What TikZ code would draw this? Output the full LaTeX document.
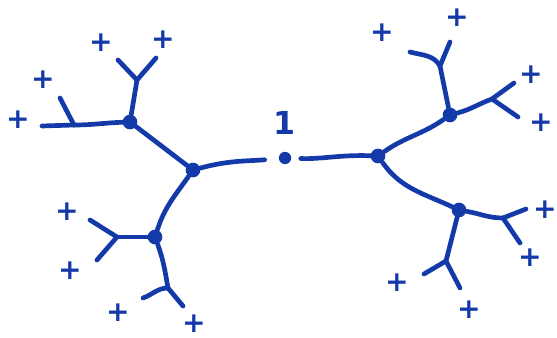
\documentclass[tikz,border=0pt]{standalone}
\usepackage{fontspec}
\usepackage{tikz}
\usetikzlibrary{positioning}
\newfontfamily\inkfont{DejaVu Sans}
\definecolor{ink}{RGB}{20,58,170}
\tikzset{
  twig/.style={draw=ink,line width=4pt,line cap=round,line join=round},
  vx/.style={circle,fill=ink,inner sep=0pt,minimum size=12.5pt},
  sgn/.style={text=ink,font=\inkfont\bfseries\fontsize{24}{24}\selectfont,inner sep=0pt},
  lbl/.style={text=ink,font=\inkfont\bfseries\fontsize{27}{27}\selectfont,inner sep=0pt},
}
\begin{document}
\begin{tikzpicture}[x=0.03cm,y=0.03cm]
  \useasboundingbox (0,0) rectangle (557,338);
  % centre and inner vertices
  \node[vx,minimum size=10.5pt] (ctr) at (285,180) {};
  \node[lbl,above=14pt of ctr] (one) {1};
  \node[vx] (a) at (193,168) {};
  \node[vx] (b) at (378,182) {};
  \node[vx] (ul) at (130,216) {};
  \node[vx] (ll) at (155,101) {};
  \node[vx] (ur) at (450,223) {};
  \node[vx] (lr) at (459,128) {};
  \draw[twig,shorten >=12pt] (a) to[out=15,in=185] (ctr);
  \draw[twig,shorten <=8pt] (ctr) to[out=-2,in=178] (b);
  \draw[twig] (a) -- (ul);
  \draw[twig] (a) to[out=-125,in=72] (ll);
  \draw[twig] (b) to[out=35,in=-145] (ur);
  \draw[twig] (b) to[out=-55,in=155] (lr);
  % branch points
  \coordinate (ulu) at (137,258); \coordinate (ulw) at (74,213);
  \coordinate (llw) at (117,101); \coordinate (lld) at (168,50);
  \coordinate (uru) at (440,272); \coordinate (ure) at (492,239);
  \coordinate (lre) at (503,120); \coordinate (lrd) at (446,77);
  \draw[twig] (ul) -- (ulu); \draw[twig] (ul) to[out=182,in=0] (ulw);
  \draw[twig] (ll) -- (llw); \draw[twig] (ll) to[out=-70,in=100] (lld);
  \draw[twig] (ur) -- (uru); \draw[twig] (ur) to[out=15,in=-160] (ure);
  \draw[twig] (lr) to[out=-10,in=180] (lre); \draw[twig] (lr) -- (lrd);
  % twig ends
  \coordinate (t1) at (118,278); \coordinate (t2) at (156,280);
  \coordinate (t3) at (60,240);  \coordinate (t4) at (42,212);
  \coordinate (t5) at (90,118);  \coordinate (t6) at (97,78);
  \coordinate (t7) at (143,40);  \coordinate (t8) at (183,32);
  \coordinate (t9) at (410,286); \coordinate (t10) at (450,296);
  \coordinate (t11) at (514,255); \coordinate (t12) at (518,221);
  \coordinate (t13) at (526,129); \coordinate (t14) at (520,95);
  \coordinate (t15) at (424,64); \coordinate (t16) at (460,50);
  \draw[twig] (ulu) -- (t1); \draw[twig] (ulu) -- (t2);
  \draw[twig] (ulw) -- (t3); \draw[twig] (ulw) -- (t4);
  \draw[twig] (llw) -- (t5); \draw[twig] (llw) -- (t6);
  \draw[twig] (lld) to[out=180,in=20] (t7); \draw[twig] (lld) -- (t8);
  \draw[twig] (uru) to[out=120,in=-15] (t9); \draw[twig] (uru) -- (t10);
  \draw[twig] (ure) -- (t11); \draw[twig] (ure) -- (t12);
  \draw[twig] (lre) -- (t13); \draw[twig] (lre) -- (t14);
  \draw[twig] (lrd) -- (t15); \draw[twig] (lrd) -- (t16);
  % leaf signs
  \node[sgn] (p1) at (101,295) {+};  \node[sgn] (p2) at (163,298) {+};
  \node[sgn] (p3) at (43,258) {+};   \node[sgn] (p4) at (18,218) {+};
  \node[sgn] (p5) at (67,126) {+};   \node[sgn] (p6) at (70,67) {+};
  \node[sgn] (p7) at (118,25) {+};   \node[sgn] (p8) at (194,14) {+};
  \node[sgn] (p9) at (382,305) {+};  \node[sgn] (p10) at (457,320) {+};
  \node[sgn] (p11) at (531,263) {+}; \node[sgn] (p12) at (541,215) {+};
  \node[sgn] (p13) at (545,128) {+}; \node[sgn] (p14) at (530,80) {+};
  \node[sgn] (p15) at (397,55) {+};  \node[sgn] (p16) at (469,28) {+};
\end{tikzpicture}
\end{document}
